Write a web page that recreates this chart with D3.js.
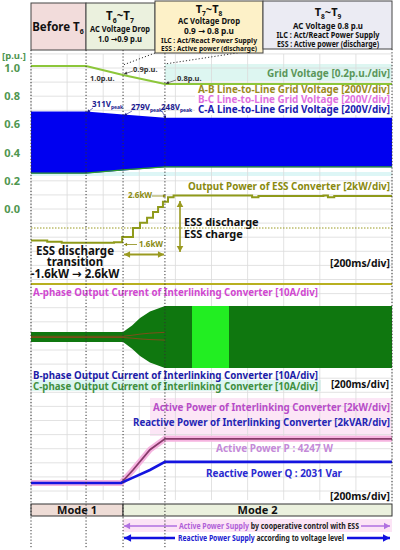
<!DOCTYPE html>
<html>
<head>
<meta charset="utf-8">
<script src="https://cdn.jsdelivr.net/npm/d3@7"></script>
<style>
body { margin: 0; background: #fff; }
svg { display: block; font-family: "Noto Sans", "DejaVu Sans", sans-serif; font-weight: bold; }
</style>
</head>
<body>
<script>
// ---- data (time in ms, 200 ms/div) ----
var phaseTimes = [0, 305, 510, 742, 2000];          // start, T6, T7, T8, end
var puTicks = [1.0, 0.8, 0.6, 0.4, 0.2, 0.0];

var gridVoltTime = [0, 305, 510, 742, 2000];
var gridVoltPu   = [1.0, 1.0, 0.9, 0.8, 0.8];

var llPeakTime = [0, 305, 510, 742, 2000];
var llPeakV    = [311, 311, 279, 248, 248];

var essTime = [0, 90, 170, 330, 460, 505, 565, 604, 643, 676, 704, 731, 759, 790, 1200, 1225, 1260, 1620, 1645, 1680, 2000];
var essKw   = [-1.1, -1.2, -1.3, -1.3, -1.25, -0.8, 0.0, 0.45, 0.9, 1.4, 1.85, 2.3, 2.7, 2.85, 2.85, 2.7, 2.8, 2.85, 2.7, 2.8, 2.8];

var ilcTime  = [0, 510, 560, 604, 659, 742, 2000];
var ilcPeakA = [3.2, 3.2, 7.5, 12.3, 16.5, 20, 20];
var brightWindow = [892, 1097];

var pqTime       = [0, 499, 565, 659, 742, 2000];
var activeKw     = [0, 0, 1.25, 3.2, 4.247, 4.247];
var reactiveKvar = [0, 0, 0.52, 1.25, 2.031, 2.031];

var modeNames = ["Mode 1", "Mode 2"];
var modeTimes = [0, 510, 2000];

// ---- layout ----
var svg = d3.select("body").append("svg").attr("width", 400).attr("height", 550);

var x = d3.scaleLinear().domain([0, 2000]).range([31, 392]);
var puY = d3.scaleLinear().domain([0, 1]).range([209, 68]);
var gvY = d3.scaleLinear().domain([0.8, 1.0]).range([84, 66]);
var llY = d3.scaleLinear().domain([-311, 311]).range([173.6, 111.4]);
var essY = d3.scaleLinear().domain([-2, 3]).range([250.8, 193.8]);
var ilcY = d3.scaleLinear().domain([-20, 20]).range([368, 306]);
var pqY = d3.scaleLinear().domain([0, 4.247]).range([483, 438.8]);

function zip(a, b) { return a.map(function(d, i) { return [d, b[i]]; }); }

function txt(g, xx, yy, s, o) {
  o = o || {};
  var t = g.append("text").attr("x", xx).attr("y", yy).text(s)
    .attr("font-size", o.size || 10)
    .attr("fill", o.color || "#111")
    .attr("text-anchor", o.anchor || "start");
  if (o.len) t.attr("textLength", o.len).attr("lengthAdjust", "spacingAndGlyphs");
  return t;
}

function arrow(g, x1, y1, x2, y2, color, w, hs) {
  g.append("line").attr("x1", x1).attr("y1", y1).attr("x2", x2).attr("y2", y2)
    .attr("stroke", color).attr("stroke-width", w);
  var a = Math.atan2(y2 - y1, x2 - x1), s = hs || 5;
  var p = [[x2, y2],
    [x2 - s * Math.cos(a) + s * 0.55 * Math.sin(a), y2 - s * Math.sin(a) - s * 0.55 * Math.cos(a)],
    [x2 - s * Math.cos(a) - s * 0.55 * Math.sin(a), y2 - s * Math.sin(a) + s * 0.55 * Math.cos(a)]];
  g.append("path").attr("d", "M" + p.join("L") + "Z").attr("fill", color);
}

// ---- background bands ----
var bg = svg.append("g");
bg.append("rect").attr("x", 165).attr("y", 64).attr("width", 227).attr("height", 17).attr("fill", "#ddf6f1");
bg.append("rect").attr("x", 31).attr("y", 172).attr("width", 361).attr("height", 4).attr("fill", "#ddf6f6");
bg.append("rect").attr("x", 31).attr("y", 380).attr("width", 290).attr("height", 11).attr("fill", "#ddf6f1");
bg.append("rect").attr("x", 150).attr("y", 398).attr("width", 242).attr("height", 38).attr("fill", "#fce6f6");

// ---- grid ----
var grid = svg.append("g").attr("stroke", "#dadada").attr("stroke-width", 0.8);
grid.selectAll("line.v").data(d3.range(0, 2001, 200)).enter().append("line")
  .attr("x1", function(d) { return x(d); }).attr("x2", function(d) { return x(d); })
  .attr("y1", 54).attr("y2", 500);
grid.selectAll("line.h").data(d3.range(-20, 12)).enter().append("line")
  .attr("x1", 31).attr("x2", 392)
  .attr("y1", function(d) { return puY(d / 10); }).attr("y2", function(d) { return puY(d / 10); });

// white label backdrop
svg.append("rect").attr("x", 195).attr("y", 84).attr("width", 197).attr("height", 31).attr("fill", "#fff").attr("opacity", 0.95);

// ---- panel 1: grid voltage ----
var p1 = svg.append("g");
var llData = zip(llPeakTime, llPeakV);
p1.append("path").datum(llData)
  .attr("d", d3.area().x(function(d) { return x(d[0]); })
    .y0(function(d) { return llY(-d[1]); }).y1(function(d) { return llY(d[1]); }))
  .attr("fill", "#0000f0");
p1.append("path").datum(llData)
  .attr("d", d3.line().x(function(d) { return x(d[0]); }).y(function(d) { return llY(-d[1]) - 0.5; }))
  .attr("fill", "none").attr("stroke", "#2c9a2c").attr("stroke-width", 1.2);
p1.append("path").datum(zip(gridVoltTime, gridVoltPu))
  .attr("d", d3.line().x(function(d) { return x(d[0]); }).y(function(d) { return gvY(d[1]); }))
  .attr("fill", "none").attr("stroke", "#8cc63a").attr("stroke-width", 2);

var ax = svg.append("g").attr("transform", "translate(23,0)")
  .call(d3.axisLeft(puY).tickValues(puTicks).tickSize(0).tickFormat(d3.format(".1f")));
ax.select(".domain").remove();
ax.selectAll("text").attr("font-size", 11).attr("fill", "#4f964f")
  .attr("font-family", "'Noto Sans', sans-serif").attr("font-weight", "bold");
txt(svg, 2, 59, "[p.u.]", { size: 9.5, color: "#4f964f" });

txt(p1, 390, 77, "Grid Voltage [0.2p.u./div]", { size: 10.5, color: "#5a965a", anchor: "end", len: 123 });
txt(p1, 390, 93, "A-B Line-to-Line Grid Voltage [200V/div]", { size: 10, color: "#9a8a1e", anchor: "end", len: 192 });
txt(p1, 390, 103, "B-C Line-to-Line Grid Voltage [200V/div]", { size: 10, color: "#e070e0", anchor: "end", len: 192 });
txt(p1, 390, 112.5, "C-A Line-to-Line Grid Voltage [200V/div]", { size: 10, color: "#2020b0", anchor: "end", len: 192 });

txt(p1, 90, 81, "1.0p.u.", { size: 7.5, color: "#333" });
txt(p1, 133, 72, "0.9p.u.", { size: 7.5, color: "#333" });
txt(p1, 177, 81, "0.8p.u.", { size: 7.5, color: "#333" });
arrow(p1, 133, 71, x(510) + 1, gvY(0.9) - 1, "#333", 0.6, 3);
arrow(p1, 176, 80, x(742) + 1, gvY(0.8) - 0.5, "#333", 0.6, 3);

[[92, 107, "311V", 305, 311], [131, 110, "279V", 510, 279], [161, 110, "248V", 742, 248]].forEach(function(a) {
  var t = txt(p1, a[0], a[1], a[2], { size: 8, color: "#1a1a90" });
  t.append("tspan").attr("font-size", 5).attr("dy", 2).text("peak");
  arrow(p1, a[0] + 1, a[1] + 1, x(a[3]) + 1, llY(a[4]) + 1, "#1a1a90", 0.6, 3);
});

// ---- panel 2: ESS power ----
var p2 = svg.append("g");
p2.append("line").attr("x1", 31).attr("x2", 392).attr("y1", essY(0)).attr("y2", essY(0))
  .attr("stroke", "#9a9a20").attr("stroke-width", 1).attr("stroke-dasharray", "1.5,1.5");
p2.append("path").datum(zip(essTime, essKw))
  .attr("d", d3.line().curve(d3.curveStepAfter).x(function(d) { return x(d[0]); }).y(function(d) { return essY(d[1]); }))
  .attr("fill", "none").attr("stroke", "#8f9a1a").attr("stroke-width", 2);
txt(p2, 390, 190, "Output Power of ESS Converter [2kW/div]", { size: 10.5, color: "#8a8a10", anchor: "end", len: 202 });

txt(p2, 128, 198, "2.6kW", { size: 8, color: "#8a8a10" });
arrow(p2, 152, 196, x(742) + 1, 196, "#8a8a10", 0.8, 3);
txt(p2, 139, 247, "1.6kW", { size: 8, color: "#8a8a10" });
arrow(p2, 137, 244.5, x(510) + 1, 244.5, "#8a8a10", 0.8, 3);
arrow(p2, 144, 254.5, x(742) - 1, 254.5, "#9a9a20", 2, 6);
arrow(p2, 144, 254.5, x(510) + 1, 254.5, "#9a9a20", 2, 6);

arrow(p2, 180, 226, 180, 201, "#9a9a20", 1.6, 6);
arrow(p2, 180, 226, 180, 252, "#9a9a20", 1.6, 6);
txt(p2, 184, 226, "ESS discharge", { size: 11, color: "#111" });
txt(p2, 184, 238, "ESS charge", { size: 11, color: "#111" });

txt(p2, 75, 255, "ESS discharge", { size: 11.5, color: "#111", anchor: "middle" });
txt(p2, 75, 266, "transition", { size: 11.5, color: "#111", anchor: "middle" });
txt(p2, 75, 278, "-1.6kW \u2192 2.6kW", { size: 11.5, color: "#111", anchor: "middle" });
txt(p2, 390, 267, "[200ms/div]", { size: 10, color: "#111", anchor: "end", len: 60 });

p2.append("line").attr("x1", 31).attr("x2", 392).attr("y1", 284).attr("y2", 284)
  .attr("stroke", "#b8b020").attr("stroke-width", 2);

// ---- panel 3: interlinking converter currents ----
var p3 = svg.append("g");
var ilcData = zip(ilcTime, ilcPeakA);
var ilcArea = d3.area().x(function(d) { return x(d[0]); })
  .y0(function(d) { return ilcY(-d[1]); }).y1(function(d) { return ilcY(d[1]); });
p3.append("path").datum(ilcData).attr("d", ilcArea).attr("fill", "#0f770f");
var winData = [[brightWindow[0], 20], [brightWindow[1], 20]];
p3.append("path").datum(winData).attr("d", ilcArea).attr("fill", "#22ee22");
p3.append("path").datum(ilcData.filter(function(d) { return d[0] <= 742; }))
  .attr("d", d3.line().x(function(d) { return x(d[0]); }).y(function(d) { return ilcY(d[1] * 0.15); }))
  .attr("fill", "none").attr("stroke", "#c83020").attr("stroke-width", 0.6);
p3.append("path").datum(ilcData.filter(function(d) { return d[0] <= 742; }))
  .attr("d", d3.line().x(function(d) { return x(d[0]); }).y(function(d) { return ilcY(-d[1] * 0.1); }))
  .attr("fill", "none").attr("stroke", "#c83020").attr("stroke-width", 0.6);

txt(p3, 33, 296, "A-phase Output Current of Interlinking Converter [10A/div]", { size: 10.5, color: "#d048d0", len: 285 });
txt(p3, 33, 378.5, "B-phase Output Current of Interlinking Converter [10A/div]", { size: 10.5, color: "#1c1ca8", len: 285 });
txt(p3, 33, 389.5, "C-phase Output Current of Interlinking Converter [10A/div]", { size: 10.5, color: "#3f8f3f", len: 285 });
txt(p3, 389, 388, "[200ms/div]", { size: 10, color: "#111", anchor: "end", len: 58 });

// ---- panel 4: active / reactive power ----
var p4 = svg.append("g");
var pLine = d3.line().x(function(d) { return x(d[0]); }).y(function(d) { return pqY(d[1]); });
p4.append("path").datum(zip(pqTime, activeKw)).attr("d", pLine)
  .attr("fill", "none").attr("stroke", "#f6b4e0").attr("stroke-width", 6);
p4.append("path").datum(zip(pqTime, activeKw)).attr("d", pLine)
  .attr("fill", "none").attr("stroke", "#883a6a").attr("stroke-width", 1.8);
p4.append("path").datum(zip(pqTime, reactiveKvar)).attr("d", pLine)
  .attr("fill", "none").attr("stroke", "#1414e0").attr("stroke-width", 2.6);

txt(p4, 390, 411, "Active Power of Interlinking Converter [2kW/div]", { size: 10.5, color: "#b84cc8", anchor: "end", len: 237 });
txt(p4, 390, 426, "Reactive Power of Interlinking Converter [2kVAR/div]", { size: 10.5, color: "#2525b5", anchor: "end", len: 257 });
txt(p4, 216, 452, "Active Power P : 4247 W", { size: 10.5, color: "#c48ad8", len: 117 });
txt(p4, 206, 477, "Reactive Power Q : 2031 Var", { size: 10.5, color: "#2a2ad0", len: 136 });
txt(p4, 390, 500, "[200ms/div]", { size: 10, color: "#111", anchor: "end", len: 60 });

// ---- mode bar ----
var mb = svg.append("g");
var modeFill = ["#eedcd6", "#ebf1de"];
modeNames.forEach(function(m, i) {
  mb.append("rect").attr("x", x(modeTimes[i])).attr("y", 504)
    .attr("width", x(modeTimes[i + 1]) - x(modeTimes[i])).attr("height", 12)
    .attr("fill", modeFill[i]).attr("stroke", "#333").attr("stroke-width", 1);
  txt(mb, (x(modeTimes[i]) + x(modeTimes[i + 1])) / 2, 514, m, { size: 11, color: "#111", anchor: "middle" });
});

// supply arrows
var sa = svg.append("g");
sa.append("rect").attr("x", x(510)).attr("y", 519).attr("width", 392 - x(510)).attr("height", 13).attr("fill", "#fce4f6");
arrow(sa, 177, 526, x(510) + 1, 526, "#b070e0", 1.5, 6);
arrow(sa, 361, 526, 390, 526, "#b070e0", 1.5, 6);
var r1 = sa.append("text").attr("x", 179).attr("y", 529).attr("font-size", 8)
  .attr("textLength", 180).attr("lengthAdjust", "spacingAndGlyphs");
r1.append("tspan").attr("fill", "#b060d8").text("Active Power Supply");
r1.append("tspan").attr("fill", "#222").text(" by cooperative control with ESS");
arrow(sa, 175, 538, x(510) + 1, 538, "#1010e0", 2.4, 7);
arrow(sa, 347, 538, 390, 538, "#1010e0", 2.4, 7);
var r2 = sa.append("text").attr("x", 178).attr("y", 541).attr("font-size", 8)
  .attr("textLength", 166).attr("lengthAdjust", "spacingAndGlyphs");
r2.append("tspan").attr("fill", "#2020d0").text("Reactive Power Supply");
r2.append("tspan").attr("fill", "#222").text(" according to voltage level");

// ---- dotted time markers ----
var dl = svg.append("g").attr("stroke", "#333").attr("stroke-width", 1).attr("stroke-dasharray", "1.2,2");
phaseTimes.slice(0, 4).forEach(function(t) {
  dl.append("line").attr("x1", x(t)).attr("x2", x(t)).attr("y1", 50).attr("y2", 548);
});
dl.append("line").attr("x1", x(2000)).attr("x2", x(2000)).attr("y1", 49).attr("y2", 502);
dl.append("line").attr("x1", 155).attr("y1", 53).attr("x2", x(510)).attr("y2", 65);
dl.append("line").attr("x1", 263).attr("y1", 49).attr("x2", x(742)).attr("y2", 64);

// ---- header boxes ----
var hd = svg.append("g");
var hdrBoxes = [
  { x0: 31, x1: 86, y0: 3, y1: 50, fill: "#f2dcdb" },
  { x0: 86, x1: 155, y0: 3, y1: 50, fill: "#ebf1de" },
  { x0: 155, x1: 263, y0: 1, y1: 53, fill: "#fdf1c8" },
  { x0: 263, x1: 392, y0: 1, y1: 49, fill: "#ebebf3" }
];
hdrBoxes.forEach(function(b) {
  hd.append("rect").attr("x", b.x0).attr("y", b.y0).attr("width", b.x1 - b.x0).attr("height", b.y1 - b.y0)
    .attr("fill", b.fill).attr("stroke", "#444").attr("stroke-width", 1);
});
function tLabel(cx, yy, a, b, size) {
  var t = hd.append("text").attr("x", cx).attr("y", yy).attr("text-anchor", "middle")
    .attr("font-size", size).attr("fill", "#111");
  t.append("tspan").text("T");
  t.append("tspan").attr("font-size", size * 0.6).attr("dy", 3).text(a);
  if (b) {
    t.append("tspan").attr("dy", -3).text("~T");
    t.append("tspan").attr("font-size", size * 0.6).attr("dy", 3).text(b);
  }
  return t;
}
var b1 = hd.append("text").attr("x", 58).attr("y", 31).attr("text-anchor", "middle").attr("font-size", 11.5).attr("fill", "#111");
b1.append("tspan").text("Before T");
b1.append("tspan").attr("font-size", 7).attr("dy", 3).text("6");
tLabel(120, 20, "6", "7", 11.5);
txt(hd, 120, 32, "AC Voltage Drop", { size: 8.5, anchor: "middle", len: 60 });
txt(hd, 120, 42, "1.0 \u21920.9 p.u", { size: 8.5, anchor: "middle", len: 44 });
tLabel(209, 13, "7", "8", 11);
txt(hd, 209, 24, "AC Voltage Drop", { size: 8.5, anchor: "middle", len: 62 });
txt(hd, 209, 34, "0.9 \u2192 0.8 p.u", { size: 8.5, anchor: "middle", len: 50 });
txt(hd, 209, 43, "ILC : Act/React Power Supply", { size: 6.5, anchor: "middle", len: 96 });
txt(hd, 209, 51, "ESS : Active power (discharge)", { size: 6.5, anchor: "middle", len: 96 });
tLabel(328, 16, "8", "9", 11);
txt(hd, 328, 29, "AC Voltage 0.8 p.u", { size: 8.5, anchor: "middle", len: 70 });
txt(hd, 328, 38, "ILC : Act/React Power Supply", { size: 8.5, anchor: "middle", len: 103 });
txt(hd, 328, 47, "ESS : Active power (discharge)", { size: 8.5, anchor: "middle", len: 102 });
</script>
</body>
</html>
